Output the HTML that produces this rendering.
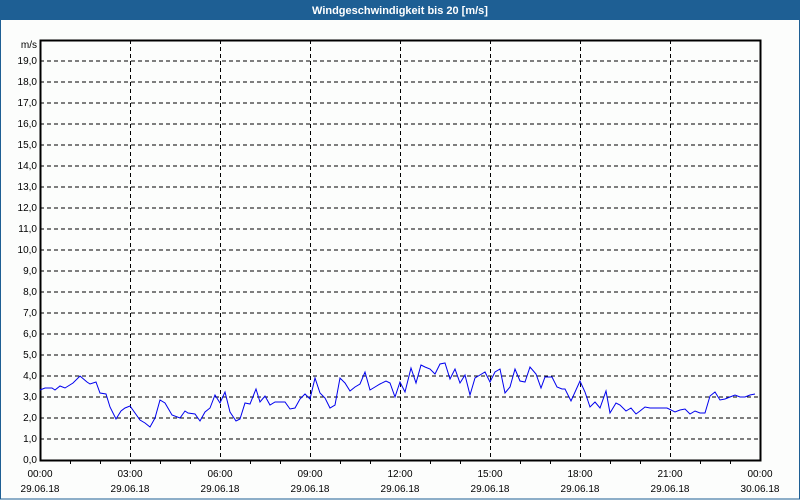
<!DOCTYPE html>
<html><head><meta charset="utf-8"><style>
html,body{margin:0;padding:0;background:#fcfdfc;}
svg{display:block;font-family:"Liberation Sans","DejaVu Sans",sans-serif;}
</style></head><body>
<svg width="800" height="500" viewBox="0 0 800 500" xmlns="http://www.w3.org/2000/svg">
<rect x="0" y="0" width="800" height="500" fill="#fcfdfc"/>
<rect x="0" y="0" width="800" height="20" fill="#1e5f94"/>
<rect x="0.5" y="0.5" width="799" height="498.5" fill="none" stroke="#1e5f94" stroke-width="1"/>
<text x="400" y="14" fill="#fff" font-size="11" font-weight="bold" text-anchor="middle">Windgeschwindigkeit bis 20 [m/s]</text>
<g stroke="#000" stroke-width="1" stroke-dasharray="4,3" shape-rendering="crispEdges">
<line x1="40" x2="760" y1="61" y2="61"/><line x1="40" x2="760" y1="82" y2="82"/><line x1="40" x2="760" y1="103" y2="103"/><line x1="40" x2="760" y1="124" y2="124"/><line x1="40" x2="760" y1="145" y2="145"/><line x1="40" x2="760" y1="166" y2="166"/><line x1="40" x2="760" y1="187" y2="187"/><line x1="40" x2="760" y1="208" y2="208"/><line x1="40" x2="760" y1="229" y2="229"/><line x1="40" x2="760" y1="250" y2="250"/><line x1="40" x2="760" y1="271" y2="271"/><line x1="40" x2="760" y1="292" y2="292"/><line x1="40" x2="760" y1="313" y2="313"/><line x1="40" x2="760" y1="334" y2="334"/><line x1="40" x2="760" y1="355" y2="355"/><line x1="40" x2="760" y1="376" y2="376"/><line x1="40" x2="760" y1="397" y2="397"/><line x1="40" x2="760" y1="418" y2="418"/><line x1="40" x2="760" y1="439" y2="439"/>
<line x1="130.5" x2="130.5" y1="40" y2="460"/><line x1="220.5" x2="220.5" y1="40" y2="460"/><line x1="310.5" x2="310.5" y1="40" y2="460"/><line x1="400.5" x2="400.5" y1="40" y2="460"/><line x1="490.5" x2="490.5" y1="40" y2="460"/><line x1="580.5" x2="580.5" y1="40" y2="460"/><line x1="670.5" x2="670.5" y1="40" y2="460"/>
</g>
<g stroke="#000" stroke-width="1" shape-rendering="crispEdges">
<line x1="70.5" x2="70.5" y1="460" y2="464"/><line x1="100.5" x2="100.5" y1="460" y2="464"/><line x1="130.5" x2="130.5" y1="460" y2="464"/><line x1="160.5" x2="160.5" y1="460" y2="464"/><line x1="190.5" x2="190.5" y1="460" y2="464"/><line x1="250.5" x2="250.5" y1="460" y2="464"/><line x1="280.5" x2="280.5" y1="460" y2="464"/><line x1="340.5" x2="340.5" y1="460" y2="464"/><line x1="370.5" x2="370.5" y1="460" y2="464"/><line x1="430.5" x2="430.5" y1="460" y2="464"/><line x1="460.5" x2="460.5" y1="460" y2="464"/><line x1="520.5" x2="520.5" y1="460" y2="464"/><line x1="550.5" x2="550.5" y1="460" y2="464"/><line x1="610.5" x2="610.5" y1="460" y2="464"/><line x1="640.5" x2="640.5" y1="460" y2="464"/><line x1="700.5" x2="700.5" y1="460" y2="464"/><line x1="730.5" x2="730.5" y1="460" y2="464"/>
</g>
<rect x="40.5" y="40.5" width="720" height="420" fill="none" stroke="#000" stroke-width="2" shape-rendering="crispEdges"/>
<polyline fill="none" stroke="#0000ee" stroke-width="1" points="40,390 45,388 52,388 55,390 60,386 65,388 73,383 80,376 87,382 90,384 96,382 100,393 106,394 110,407 116,419 121,411 125,408 130,406 140,420 145,423 150,427 155,418 160,400 165,403 172,415 180,418 185,411 188,413 195,414 200,421 205,412 210,408 215,395 220,403 225,392 230,412 236,421 240,419 245,403 250,404 256,389 260,402 265,396 270,405 275,402 285,402 290,409 295,408 300,399 305,394 310,399 315,378 320,393 325,398 330,408 335,405 340,378 345,383 350,391 355,387 360,384 365,372 370,390 375,387 380,384 386,381 390,383 395,397 400,382 405,392 411,368 416,383 421,365 425,367 430,369 435,374 440,364 445,363 450,379 455,369 460,383 465,375 470,395 475,378 480,375 485,372 490,382 495,372 500,369 505,393 510,387 515,369 520,381 525,382 530,367 536,374 541,388 545,377 552,377 557,387 562,389 565,389 571,401 580,381 585,392 590,407 595,402 600,408 606,391 610,413 616,403 620,405 626,411 631,408 636,414 640,411 645,407 650,408 655,408 660,408 667,408 675,412 680,410 685,409 690,414 695,411 700,413 705,413 710,396 715,392 720,400 725,399 730,397 735,395 740,397 745,397 750,395 755,394"/>
<g font-size="10" fill="#000" text-anchor="end">
<text x="37" y="48">m/s</text>
<text x="37" y="64">19,0</text><text x="37" y="85">18,0</text><text x="37" y="106">17,0</text><text x="37" y="127">16,0</text><text x="37" y="148">15,0</text><text x="37" y="169">14,0</text><text x="37" y="190">13,0</text><text x="37" y="211">12,0</text><text x="37" y="232">11,0</text><text x="37" y="253">10,0</text><text x="37" y="274">9,0</text><text x="37" y="295">8,0</text><text x="37" y="316">7,0</text><text x="37" y="337">6,0</text><text x="37" y="358">5,0</text><text x="37" y="379">4,0</text><text x="37" y="400">3,0</text><text x="37" y="421">2,0</text><text x="37" y="442">1,0</text><text x="37" y="463">0,0</text>
</g>
<g font-size="10" fill="#000" text-anchor="middle">
<text x="40" y="477">00:00</text><text x="40" y="492">29.06.18</text>
<text x="130" y="477">03:00</text><text x="130" y="492">29.06.18</text>
<text x="220" y="477">06:00</text><text x="220" y="492">29.06.18</text>
<text x="310" y="477">09:00</text><text x="310" y="492">29.06.18</text>
<text x="400" y="477">12:00</text><text x="400" y="492">29.06.18</text>
<text x="490" y="477">15:00</text><text x="490" y="492">29.06.18</text>
<text x="580" y="477">18:00</text><text x="580" y="492">29.06.18</text>
<text x="670" y="477">21:00</text><text x="670" y="492">29.06.18</text>
<text x="760" y="477">00:00</text><text x="760" y="492">30.06.18</text>
</g>
</svg>
</body></html>
